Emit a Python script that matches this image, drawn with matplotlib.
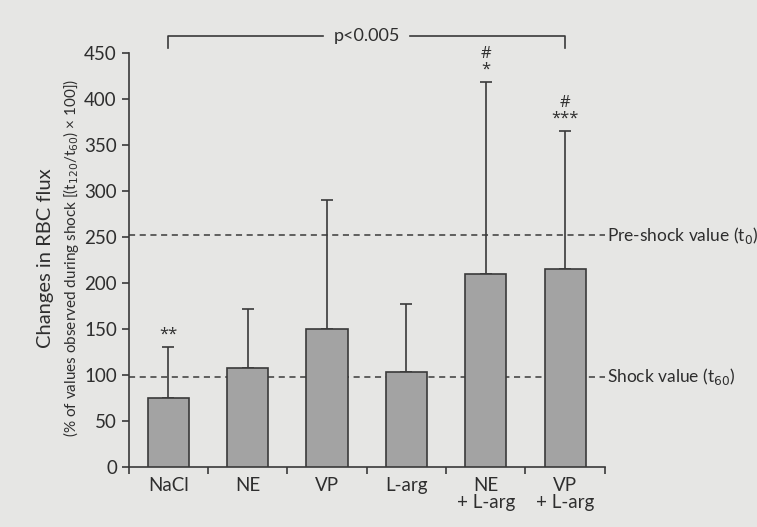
import matplotlib
matplotlib.use("Agg")
import matplotlib.pyplot as plt
import numpy as np

categories = ["NaCl", "NE", "VP", "L-arg", "NE\n+ L-arg", "VP\n+ L-arg"]
means = [75, 108, 150, 103, 210, 215]
upper = [130, 172, 290, 177, 418, 365]
marks = ["**", "", "", "", "#\n*", "#\n***"]
pre_shock = 252
shock = 98
yticks = [0, 50, 100, 150, 200, 250, 300, 350, 400, 450]

plt.rcParams['font.family'] = ['Lato', 'DejaVu Sans']
bg = "#e6e6e4"
tc = "#2e2e2e"
fig = plt.figure(figsize=(7.57, 5.27), dpi=100, facecolor=bg)
ax = fig.add_axes([0.170, 0.1139, 0.629, 0.7855])
ax.set_facecolor(bg)

x = np.arange(len(categories))
err = np.array(upper) - np.array(means)
ax.bar(x, means, width=0.52, color="#a3a3a3", edgecolor="#3a3a3a", linewidth=1.2, zorder=3)
ax.errorbar(x, means, yerr=[np.zeros_like(err), err], fmt="none", ecolor="#3a3a3a",
            elinewidth=1.2, capsize=4, capthick=1.2, zorder=2)

ax.set_xlim(-0.5, len(categories) - 0.5)
ax.set_ylim(0, 450)
ax.set_yticks(yticks)
ax.set_xticks(x)
ax.set_xticklabels(categories, fontsize=13.5, color=tc, linespacing=1.0)
ax.set_xticks(np.arange(-0.5, len(categories)), minor=True)
ax.tick_params(axis="x", which="major", length=0, pad=7)
ax.tick_params(axis="x", which="minor", length=5, width=1.2, color="#3a3a3a", direction="out")
ax.tick_params(axis="y", length=5, width=1.2, color="#3a3a3a", labelsize=13.5, labelcolor=tc)
for s in ["top", "right"]:
    ax.spines[s].set_visible(False)
for s in ["left", "bottom"]:
    ax.spines[s].set_color("#3a3a3a")
    ax.spines[s].set_linewidth(1.2)

for yv in [pre_shock, shock]:
    ax.axhline(yv, color="#3a3a3a", linestyle=(0, (4, 3)), linewidth=1.1, zorder=1)

ax.text(1.005, pre_shock, "Pre-shock value (t$_0$)", transform=ax.get_yaxis_transform(),
        va="center", ha="left", fontsize=12.5, color=tc)
ax.text(1.005, shock, "Shock value (t$_{60}$)", transform=ax.get_yaxis_transform(),
        va="center", ha="left", fontsize=12.5, color=tc)

for xi, u, m in zip(x, upper, marks):
    if m:
        ax.text(xi, u + 5, m, ha="center", va="bottom", fontsize=12, color=tc,
                linespacing=1.0, family=["Open Sans", "DejaVu Sans"])

# significance bracket
by = 468
ax.plot([0, 0, 1.95], [455, by, by], color="#3a3a3a", lw=1.2, clip_on=False)
ax.plot([3.05, 5, 5], [by, by, 455], color="#3a3a3a", lw=1.2, clip_on=False)
ax.text(2.5, by, "p<0.005", ha="center", va="center", fontsize=13, color=tc)

fig.text(0.060, 0.51, "Changes in RBC flux", rotation=90, ha="center", va="center",
         fontsize=14.5, color=tc)
fig.text(0.094, 0.51, "(% of values observed during shock [(t$_{120}$/t$_{60}$) × 100])",
         rotation=90, ha="center", va="center", fontsize=11, color=tc)

fig.savefig("out.png", dpi=100, facecolor=bg)
